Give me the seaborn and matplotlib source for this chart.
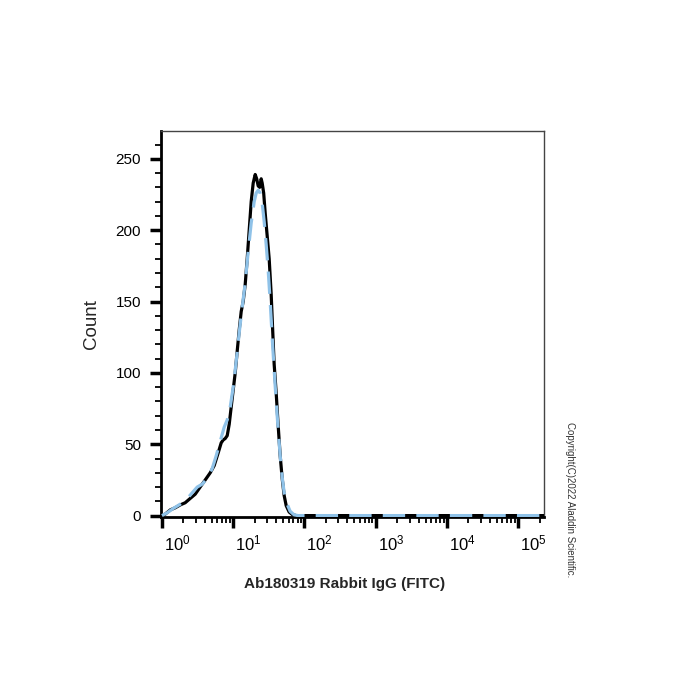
import numpy as np
import pandas as pd
import matplotlib
matplotlib.use("Agg")
import matplotlib.pyplot as plt
import matplotlib.ticker as mticker
from matplotlib.transforms import ScaledTranslation
import seaborn as sns

# FITC intensity vs. count
fitc_black = [1.00, 1.11, 1.31, 1.54, 1.81, 2.12, 2.49, 2.93, 3.44, 4.05, 4.76, 5.41,
              6.16, 6.79, 7.24, 7.72, 8.24, 8.79, 9.37, 10.0, 10.67, 11.37, 12.14,
              12.95, 13.81, 14.74, 15.72, 16.77, 17.89, 19.08, 20.35, 21.36, 22.42,
              23.53, 24.70, 25.51, 26.78, 28.11, 29.99, 31.98, 34.12, 35.81, 37.58,
              40.10, 42.78, 45.63, 48.68, 51.93, 55.39, 61.0, 67.2, 76.5, 200, 1e3,
              1e4, 1e5, 2.3e5]
count_black = [0, 1, 4, 5.5, 7.5, 9, 12, 15, 20, 25, 30, 35,
               44, 51, 53, 54, 56, 64, 76, 88, 100, 115, 130,
               143, 150, 162, 180, 200, 220, 233, 239, 236, 231,
               230, 236, 233, 226, 212, 196, 180, 155, 130, 106,
               86, 63, 42, 26, 14, 7, 2.5, 0.8, 0, 0, 0,
               0, 0, 0]

fitc_blue = [1.00, 1.187, 1.44, 1.81, 2.19, 2.66, 3.13, 3.67, 4.32, 5.08, 5.78, 6.57,
             7.48, 8.24, 9.08, 10.0, 11.02, 12.14, 13.37, 14.74, 16.23, 17.89, 19.71,
             21.02, 22.42, 23.91, 25.51, 27.22, 29.03, 30.97, 33.03, 35.24, 37.58,
             40.10, 42.78, 45.63, 48.68, 51.93, 57.2, 63.0, 71.7, 81.6, 200, 1e3,
             1e4, 1e5, 2.3e5]
count_blue = [0, 2, 5, 8, 11, 16, 20, 22, 26, 33, 42, 52,
              62, 67, 76, 90, 108, 128, 146, 163, 185, 205, 220,
              226, 228, 226, 219, 206, 190, 172, 150, 125, 102,
              80, 60, 42, 27, 16, 8, 3, 0.5, 0, 0, 0,
              0, 0, 0]

decade_ticks = [1, 10, 100, 1000, 10000, 100000]
decade_labels = [r"$\mathregular{10^{%d}}$" % i for i in range(6)]

df_black = pd.DataFrame({"fitc": fitc_black, "count": count_black})
df_blue = pd.DataFrame({"fitc": fitc_blue, "count": count_blue})

sns.set_style("ticks")
plt.rcParams["font.family"] = ["Liberation Sans", "DejaVu Sans"]

fig = plt.figure(figsize=(7, 7), dpi=100)
ax = fig.add_axes([0.2293, 0.2614, 0.5477, 0.5515])

sns.lineplot(data=df_black, x="fitc", y="count", color="black", lw=2.3,
             sort=False, estimator=None, ax=ax, zorder=3)
sns.lineplot(data=df_blue, x="fitc", y="count", color="#8fc2e8", lw=2.3,
             sort=False, estimator=None, ax=ax, zorder=4, dashes=False)
ax.lines[-1].set_dashes([7, 3.5])

ax.set_xscale("log")
ax.set_xlim(10 ** -0.02, 10 ** 5.36)
ax.set_ylim(-1, 269.5)

ax.set_xticks(decade_ticks)
ax.set_xticklabels(decade_labels)
ax.xaxis.set_minor_locator(mticker.LogLocator(base=10, subs=np.arange(2, 10), numticks=20))
ax.xaxis.set_minor_formatter(mticker.NullFormatter())
ax.set_yticks([0, 50, 100, 150, 200, 250])
ax.yaxis.set_minor_locator(mticker.MultipleLocator(10))

ax.tick_params(axis="both", which="major", length=8, width=2.5, color="black",
               labelsize=11, labelcolor="black")
ax.tick_params(axis="y", which="major", pad=6)
ax.tick_params(axis="x", which="major", pad=4)
ax.tick_params(axis="both", which="minor", length=4, width=1.3, color="black")

# labels sit to the right of their decade ticks
for lab in ax.get_xticklabels():
    lab.set_transform(lab.get_transform() + ScaledTranslation(11 / 72, 0, fig.dpi_scale_trans))
    lab.set_fontsize(12)

for side in ["left", "bottom"]:
    ax.spines[side].set_linewidth(2)
    ax.spines[side].set_color("black")
for side in ["top", "right"]:
    ax.spines[side].set_linewidth(1)
    ax.spines[side].set_color("#444444")
    ax.spines[side].set_visible(True)

ax.set_xlabel("Ab180319 Rabbit IgG (FITC)", fontsize=11, fontweight="bold", labelpad=17)
ax.xaxis.label.set_x(0.481)
ax.set_ylabel("Count", fontsize=13.5, labelpad=11)

fig.text(0.814, 0.286, "Copyright(C)2022 Aladdin Scientific.", rotation=-90,
         fontsize=7, color="#333333", ha="center", va="center")

fig.savefig("out.png", dpi=100, facecolor="white")
